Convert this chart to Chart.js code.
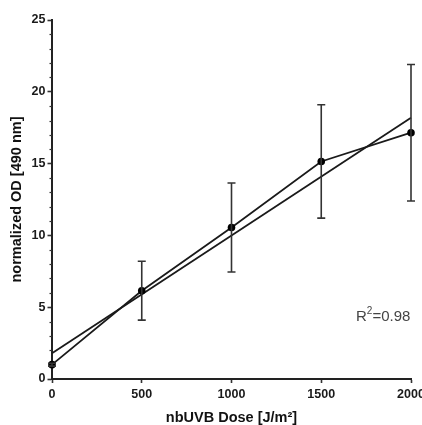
<!DOCTYPE html>
<html>
<head>
<meta charset="utf-8">
<script src="https://cdn.jsdelivr.net/npm/chart.js@4/dist/chart.umd.min.js"></script>
<style>
html,body{margin:0;padding:0;background:#fff;overflow:hidden;}
#wrap{position:relative;width:430px;height:425px;}
</style>
</head>
<body>
<div id="wrap"><canvas id="c"></canvas></div>
<script>
// Data
const doses = [0, 500, 1000, 1500, 2000];
const meanOD = [1.0, 6.15, 10.55, 15.15, 17.15];
const sdOD = [0.1, 2.05, 3.1, 3.95, 4.75];
const fitX = [0, 2000];
const fitY = [1.8, 18.2];
const xTicks = [0, 500, 1000, 1500, 2000];
const yTicks = [0, 5, 10, 15, 20, 25];
const rSquaredLabel = '0.98';

const ink = '#1a1a1a';
const fam = '"Liberation Sans", Arial, sans-serif';

const extras = {
  id: 'extras',
  afterDatasetsDraw(chart) {
    const {ctx, scales: {x, y}, chartArea} = chart;
    ctx.save();
    // error bars
    ctx.strokeStyle = '#333';
    ctx.lineWidth = 1.6;
    doses.forEach((d, i) => {
      const px = x.getPixelForValue(d);
      const top = y.getPixelForValue(meanOD[i] + sdOD[i]);
      const bot = y.getPixelForValue(meanOD[i] - sdOD[i]);
      ctx.beginPath();
      ctx.moveTo(px, top); ctx.lineTo(px, bot);
      ctx.moveTo(px - 4, top); ctx.lineTo(px + 4, top);
      ctx.moveTo(px - 4, bot); ctx.lineTo(px + 4, bot);
      ctx.stroke();
    });
    // minor ticks on y axis
    ctx.strokeStyle = '#333';
    ctx.lineWidth = 1.2;
    for (let v = y.min; v <= y.max; v += 1) {
      if (v % 5 === 0) continue;
      const py = Math.round(y.getPixelForValue(v)) + 0.5;
      ctx.beginPath();
      ctx.moveTo(chartArea.left - 2.5, py);
      ctx.lineTo(chartArea.left, py);
      ctx.stroke();
    }
    // R^2 annotation
    ctx.fillStyle = '#444';
    ctx.textBaseline = 'alphabetic';
    ctx.font = '15px ' + fam;
    let tx = 356, ty = 321;
    ctx.fillText('R', tx, ty);
    tx += ctx.measureText('R').width;
    ctx.font = '10px ' + fam;
    ctx.fillText('2', tx, ty - 7);
    tx += ctx.measureText('2').width;
    ctx.font = '15px ' + fam;
    ctx.fillText('=' + rSquaredLabel, tx, ty);
    ctx.restore();
  }
};

new Chart(document.getElementById('c'), {
  type: 'scatter',
  data: {
    datasets: [
      {
        label: 'fit',
        data: fitX.map((v, i) => ({x: v, y: fitY[i]})),
        showLine: true,
        borderColor: ink,
        borderWidth: 1.8,
        pointRadius: 0,
        fill: false,
        clip: false,
        order: 2
      },
      {
        label: 'mean',
        data: doses.map((v, i) => ({x: v, y: meanOD[i]})),
        showLine: true,
        borderColor: ink,
        borderWidth: 1.8,
        pointRadius: 3.8,
        pointBackgroundColor: '#000',
        pointBorderColor: '#000',
        pointBorderWidth: 0,
        fill: false,
        clip: false,
        order: 1
      }
    ]
  },
  options: {
    responsive: true,
    maintainAspectRatio: false,
    animation: false,
    devicePixelRatio: 1,
    layout: {padding: {left: 0, right: 19, top: 20, bottom: 0}},
    plugins: {legend: {display: false}, tooltip: {enabled: false}},
    scales: {
      x: {
        type: 'linear',
        min: 0, max: 2000,
        afterBuildTicks(s) { s.ticks = xTicks.map(v => ({value: v})); },
        afterFit(s) { s.height = 46; },
        grid: {drawOnChartArea: false, drawTicks: true, tickLength: 4, tickWidth: 1.6, tickColor: '#333'},
        border: {display: true, color: '#222', width: 2},
        ticks: {color: '#1a1a1a', padding: 4, maxRotation: 0, autoSkip: false,
                callback: v => String(v),
                font: {family: fam, size: 12.5, weight: 'bold'}},
        title: {display: true, text: 'nbUVB Dose [J/m²]', color: '#111',
                padding: {top: 0, bottom: 0},
                font: {family: fam, size: 14.5, weight: 'bold', lineHeight: 1}}
      },
      y: {
        type: 'linear',
        min: 0, max: 25,
        afterBuildTicks(s) { s.ticks = yTicks.map(v => ({value: v})); },
        afterFit(s) { s.width = 52; },
        grid: {drawOnChartArea: false, drawTicks: true, tickLength: 4.5, tickWidth: 1.6, tickColor: '#333'},
        border: {display: true, color: '#222', width: 2},
        ticks: {color: '#1a1a1a', padding: 2,
                callback: v => String(v),
                font: {family: fam, size: 12.5, weight: 'bold'}},
        title: {display: true, text: 'normalized OD [490 nm]', color: '#111',
                padding: {top: 9.75, bottom: 0},
                font: {family: fam, size: 14.5, weight: 'bold', lineHeight: 1}}
      }
    }
  },
  plugins: [extras]
});
</script>
</body>
</html>
